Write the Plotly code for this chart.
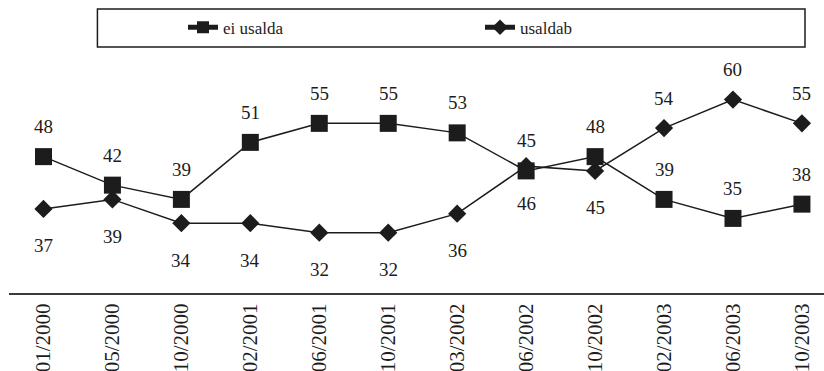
import plotly.graph_objects as go

# Survey waves
periods = ["01/2000", "05/2000", "10/2000", "02/2001", "06/2001", "10/2001",
           "03/2002", "06/2002", "10/2002", "02/2003", "06/2003", "10/2003"]

# Share of respondents (%)
ei_usalda = [48, 42, 39, 51, 55, 55, 53, 45, 48, 39, 35, 38]
usaldab = [37, 39, 34, 34, 32, 32, 36, 46, 45, 54, 60, 55]

# Label placement for "usaldab": below the marker for the early waves, above later
usaldab_label_above = [False] * 9 + [True] * 3

FONT = "'Times New Roman', 'Liberation Serif', 'DejaVu Serif', serif"
INK = "#1c1c1c"

x_idx = list(range(len(periods)))

fig = go.Figure()

fig.add_trace(go.Scatter(
    x=x_idx, y=usaldab, name="usaldab", mode="lines+markers",
    line=dict(color=INK, width=1.5),
    marker=dict(symbol="diamond", size=14, color=INK),
    legendrank=2,
))
fig.add_trace(go.Scatter(
    x=x_idx, y=ei_usalda, name="ei usalda", mode="lines+markers",
    line=dict(color=INK, width=1.5),
    marker=dict(symbol="square", size=17, color=INK),
    legendrank=1,
))

annotations = []
for i, v in enumerate(ei_usalda):
    annotations.append(dict(x=i, y=v, text=str(v), showarrow=False,
                            yshift=30, font=dict(family=FONT, size=19, color=INK)))
for i, v in enumerate(usaldab):
    shift = 30 if usaldab_label_above[i] else -37
    annotations.append(dict(x=i, y=v, text=str(v), showarrow=False,
                            yshift=shift, font=dict(family=FONT, size=19, color=INK)))

fig.update_layout(
    width=824, height=371,
    margin=dict(l=8.5, r=0, t=54, b=78),
    paper_bgcolor="white", plot_bgcolor="white",
    font=dict(family=FONT, color=INK),
    showlegend=True,
    legend=dict(
        orientation="h", x=0.1085 + 0.105, xanchor="left", y=1.11, yanchor="middle",
        font=dict(family=FONT, size=17, color=INK),
        entrywidth=252, entrywidthmode="pixels",
        itemsizing="constant", bgcolor="rgba(0,0,0,0)", borderwidth=0,
    ),
    annotations=annotations,
    shapes=[dict(type="rect", xref="paper", yref="paper",
                 x0=0.1085, x1=0.9767, y0=1.029, y1=1.188,
                 line=dict(color=INK, width=1.5), fillcolor="rgba(0,0,0,0)")],
    xaxis=dict(
        range=[-0.5, 11.32], tickmode="array", tickvals=x_idx, ticktext=periods,
        tickangle=-90, showgrid=False, zeroline=False,
        showline=True, linecolor="#3a3a3a", linewidth=2, ticks="",
        tickfont=dict(family=FONT, size=21, color=INK),
        ticklabelstandoff=0, automargin=False,
    ),
    yaxis=dict(range=[19.3, 69.6], visible=False, showgrid=False, zeroline=False,
               automargin=False),
)

fig.write_html("out.html")
